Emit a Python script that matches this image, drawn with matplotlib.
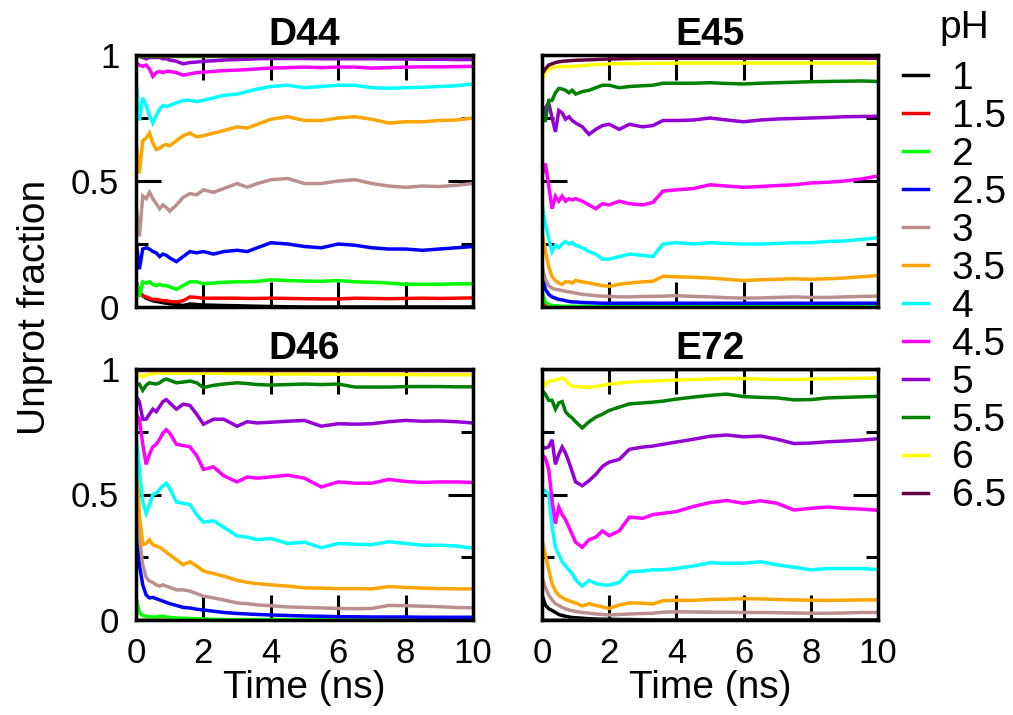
import matplotlib
matplotlib.use("Agg")
import matplotlib.pyplot as plt
from matplotlib.ticker import FixedLocator, FuncFormatter
from matplotlib.lines import Line2D

plt.rcParams['font.family'] = ['Liberation Sans', 'DejaVu Sans']

# common time grid (ns)
T = [0, 0.1, 0.2, 0.3, 0.4, 0.5, 0.6, 0.7, 0.8, 0.9, 1.0, 1.2, 1.4, 1.6, 1.8, 2.0,
     2.3, 2.6, 3.0, 3.3, 3.6, 4.0, 4.5, 5.0, 5.5, 6.0, 6.5, 7.0, 7.5, 8.0, 8.5, 9.0, 9.5, 10.0]

ph_labels = ['1', '1.5', '2', '2.5', '3', '3.5', '4', '4.5', '5', '5.5', '6', '6.5']
ph_colors = ['#000000', '#ff0000', '#00ff00', '#0000ff', '#bc8f8f', '#ffa500',
             '#00ffff', '#ff00ff', '#9400d3', '#008000', '#ffff00', '#600040']

ONE = [1.0] * 34
ZERO = [0.0] * 34

D44 = {
    '1':   [0.1, 0.06, 0.045, 0.035, 0.03, 0.025, 0.022, 0.02, 0.017, 0.015, 0.013, 0.01, 0.006, 0.012, 0.01, 0.008,
            0.007, 0.006, 0.005, 0.004, 0.003, 0.002, 0.001, 0, 0, 0, 0, 0, 0, 0, 0, 0, 0, 0],
    '1.5': [0.08, 0.05, 0.045, 0.04, 0.035, 0.03, 0.03, 0.028, 0.025, 0.025, 0.022, 0.02, 0.025, 0.04, 0.038, 0.035,
            0.035, 0.035, 0.035, 0.034, 0.034, 0.035, 0.034, 0.033, 0.032, 0.032, 0.035, 0.034, 0.033, 0.034, 0.035, 0.034, 0.035, 0.036],
    '2':   [0.11, 0.04, 0.1, 0.095, 0.1, 0.09, 0.085, 0.09, 0.085, 0.085, 0.08, 0.07, 0.085, 0.1, 0.1, 0.092,
            0.095, 0.098, 0.1, 0.1, 0.102, 0.108, 0.105, 0.103, 0.102, 0.105, 0.1, 0.098, 0.095, 0.09, 0.09, 0.09, 0.092, 0.092],
    '2.5': [0.27, 0.15, 0.23, 0.235, 0.23, 0.22, 0.215, 0.2, 0.21, 0.205, 0.195, 0.18, 0.2, 0.22, 0.215, 0.22,
            0.21, 0.22, 0.225, 0.22, 0.235, 0.255, 0.25, 0.24, 0.235, 0.25, 0.245, 0.235, 0.23, 0.23, 0.225, 0.23, 0.235, 0.24],
    '3':   [0.41, 0.28, 0.44, 0.43, 0.455, 0.43, 0.41, 0.39, 0.405, 0.395, 0.38, 0.405, 0.435, 0.45, 0.445, 0.465,
            0.455, 0.47, 0.49, 0.475, 0.49, 0.505, 0.51, 0.49, 0.49, 0.5, 0.505, 0.49, 0.48, 0.475, 0.48, 0.478, 0.483, 0.49],
    '3.5': [0.66, 0.53, 0.66, 0.67, 0.69, 0.65, 0.625, 0.63, 0.64, 0.645, 0.64, 0.66, 0.68, 0.69, 0.675, 0.68,
            0.69, 0.7, 0.715, 0.71, 0.725, 0.745, 0.755, 0.74, 0.74, 0.75, 0.755, 0.745, 0.73, 0.735, 0.735, 0.74, 0.742, 0.75],
    '4':   [0.91, 0.74, 0.83, 0.8, 0.76, 0.73, 0.76, 0.785, 0.8, 0.795, 0.8, 0.81, 0.82, 0.82, 0.815, 0.82,
            0.83, 0.84, 0.845, 0.855, 0.865, 0.875, 0.88, 0.87, 0.875, 0.88, 0.88, 0.87, 0.868, 0.87, 0.872, 0.875, 0.878, 0.885],
    '4.5': [0.97, 0.96, 0.955, 0.96, 0.945, 0.915, 0.93, 0.935, 0.93, 0.935, 0.935, 0.93, 0.92, 0.925, 0.93, 0.932,
            0.935, 0.938, 0.94, 0.942, 0.945, 0.948, 0.95, 0.952, 0.95, 0.952, 0.952, 0.948, 0.95, 0.952, 0.953, 0.953, 0.954, 0.955],
    '5':   [1.0, 0.995, 0.99, 0.985, 0.99, 0.99, 0.99, 0.99, 0.985, 0.985, 0.98, 0.975, 0.965, 0.97, 0.972, 0.975,
            0.977, 0.98, 0.982, 0.983, 0.985, 0.986, 0.986, 0.986, 0.985, 0.985, 0.985, 0.985, 0.984, 0.984, 0.983, 0.983, 0.982, 0.982],
    '5.5': [0.996] * 34,
    '6':   ONE,
    '6.5': ONE,
}

E45 = {
    '1':   [0.02, 0.005] + [0.0] * 32,
    '1.5': [0.03, 0.008, 0.003] + [0.0] * 31,
    '2':   [0.06, 0.02, 0.01, 0.006, 0.005, 0.004] + [0.003] * 28,
    '2.5': [0.14, 0.07, 0.05, 0.04, 0.035, 0.03, 0.028, 0.025, 0.022, 0.02, 0.02, 0.018, 0.017, 0.016] + [0.015] * 20,
    '3':   [0.16, 0.11, 0.085, 0.075, 0.07, 0.068, 0.065, 0.062, 0.06, 0.058, 0.055, 0.05, 0.048, 0.045, 0.043, 0.042,
            0.04, 0.04, 0.042, 0.042, 0.043, 0.045, 0.042, 0.04, 0.037, 0.035, 0.036, 0.038, 0.04, 0.038, 0.038, 0.04, 0.042, 0.043],
    '3.5': [0.3, 0.22, 0.16, 0.12, 0.105, 0.095, 0.09, 0.1, 0.1, 0.095, 0.105, 0.1, 0.095, 0.09, 0.085, 0.082,
            0.09, 0.095, 0.1, 0.102, 0.122, 0.12, 0.118, 0.115, 0.11, 0.105, 0.108, 0.11, 0.112, 0.11, 0.112, 0.115, 0.12, 0.125],
    '4':   [0.41, 0.33, 0.27, 0.22, 0.245, 0.235, 0.25, 0.26, 0.25, 0.255, 0.245, 0.235, 0.22, 0.21, 0.19, 0.19,
            0.2, 0.21, 0.205, 0.2, 0.25, 0.255, 0.25, 0.255, 0.252, 0.25, 0.25, 0.252, 0.255, 0.255, 0.26, 0.262, 0.268, 0.275],
    '4.5': [0.52, 0.57, 0.48, 0.39, 0.44, 0.42, 0.44, 0.42, 0.43, 0.425, 0.43, 0.42, 0.405, 0.39, 0.41, 0.405,
            0.42, 0.41, 0.405, 0.415, 0.46, 0.465, 0.47, 0.485, 0.48, 0.475, 0.478, 0.482, 0.485, 0.492, 0.495, 0.5, 0.508, 0.52],
    '5':   [0.75, 0.79, 0.81, 0.75, 0.695, 0.78, 0.77, 0.745, 0.755, 0.74, 0.73, 0.715, 0.685, 0.705, 0.72, 0.725,
            0.705, 0.725, 0.715, 0.72, 0.74, 0.74, 0.742, 0.75, 0.742, 0.735, 0.742, 0.746, 0.748, 0.75, 0.752, 0.755, 0.756, 0.757],
    '5.5': [0.74, 0.74, 0.82, 0.82, 0.85, 0.867, 0.865, 0.86, 0.85, 0.86, 0.845, 0.855, 0.86, 0.87, 0.88, 0.88,
            0.87, 0.875, 0.878, 0.88, 0.888, 0.888, 0.888, 0.89, 0.887, 0.885, 0.888, 0.89, 0.892, 0.894, 0.895, 0.896, 0.897, 0.895],
    '6':   [0.9, 0.93, 0.945, 0.95, 0.952, 0.955, 0.953, 0.955, 0.953, 0.955, 0.955, 0.958, 0.96, 0.962, 0.963, 0.965,
            0.966, 0.966, 0.967, 0.967, 0.967, 0.968, 0.968, 0.968, 0.968, 0.968, 0.968, 0.968, 0.968, 0.968, 0.968, 0.968, 0.968, 0.968],
    '6.5': [0.925, 0.945, 0.96, 0.965, 0.97, 0.973, 0.975, 0.976, 0.977, 0.978, 0.979, 0.98, 0.981, 0.982, 0.983, 0.984,
            0.985, 0.986] + [0.987] * 16,
}

D46 = {
    '1':   ZERO,
    '1.5': ZERO,
    '2':   [0.09, 0.03, 0.018, 0.015, 0.013, 0.012, 0.012, 0.014, 0.015, 0.012, 0.01, 0.008, 0.007, 0.006, 0.005, 0.004,
            0.003] + [0.002] * 17,
    '2.5': [0.45, 0.22, 0.14, 0.1, 0.088, 0.09, 0.085, 0.08, 0.075, 0.07, 0.065, 0.058, 0.05, 0.048, 0.043, 0.04,
            0.035, 0.03, 0.026, 0.024, 0.022, 0.02, 0.018, 0.016, 0.015, 0.013, 0.013, 0.012, 0.012, 0.012, 0.011, 0.011, 0.011, 0.011],
    '3':   [0.54, 0.33, 0.22, 0.17, 0.155, 0.15, 0.14, 0.135, 0.14, 0.135, 0.13, 0.12, 0.12, 0.115, 0.105, 0.095,
            0.088, 0.08, 0.068, 0.065, 0.06, 0.057, 0.052, 0.05, 0.048, 0.046, 0.045, 0.046, 0.058, 0.057, 0.055, 0.053, 0.05, 0.048],
    '3.5': [0.7, 0.42, 0.3, 0.305, 0.32, 0.3, 0.295, 0.29, 0.28, 0.27, 0.26, 0.24, 0.22, 0.232, 0.215, 0.195,
            0.185, 0.175, 0.158, 0.15, 0.145, 0.14, 0.135, 0.128, 0.127, 0.125, 0.125, 0.124, 0.133, 0.13, 0.127, 0.125, 0.124, 0.124],
    '4':   [0.75, 0.6, 0.47, 0.425, 0.46, 0.5, 0.505, 0.52, 0.535, 0.545, 0.525, 0.47, 0.465, 0.46, 0.42, 0.39,
            0.395, 0.37, 0.335, 0.33, 0.32, 0.325, 0.305, 0.31, 0.288, 0.305, 0.302, 0.3, 0.312, 0.305, 0.298, 0.298, 0.295, 0.286],
    '4.5': [0.82, 0.8, 0.7, 0.62, 0.66, 0.69, 0.7, 0.72, 0.745, 0.758, 0.745, 0.7, 0.695, 0.69, 0.655, 0.6,
            0.61, 0.575, 0.55, 0.57, 0.565, 0.57, 0.577, 0.565, 0.53, 0.55, 0.545, 0.545, 0.56, 0.552, 0.548, 0.55, 0.55, 0.548],
    '5':   [0.893, 0.87, 0.8, 0.8, 0.82, 0.84, 0.83, 0.85, 0.87, 0.878, 0.865, 0.84, 0.86, 0.855, 0.82, 0.78,
            0.8, 0.8, 0.772, 0.79, 0.785, 0.788, 0.792, 0.795, 0.772, 0.782, 0.78, 0.782, 0.79, 0.795, 0.792, 0.793, 0.79, 0.785],
    '5.5': [0.935, 0.94, 0.915, 0.935, 0.945, 0.942, 0.94, 0.945, 0.955, 0.96, 0.955, 0.945, 0.948, 0.952, 0.945, 0.926,
            0.935, 0.94, 0.945, 0.942, 0.938, 0.936, 0.938, 0.94, 0.938, 0.94, 0.928, 0.928, 0.928, 0.93, 0.93, 0.93, 0.929, 0.929],
    '6':   [0.99, 0.975, 0.968, 0.975, 0.98, 0.982, 0.983, 0.983, 0.983, 0.983, 0.983, 0.983, 0.983, 0.983, 0.983, 0.983,
            0.983, 0.982, 0.982, 0.981, 0.981, 0.98, 0.98, 0.98, 0.979, 0.979, 0.979, 0.978, 0.978, 0.978, 0.977, 0.977, 0.977, 0.977],
    '6.5': [0.998] * 34,
}

E72 = {
    '1':   [0.1, 0.06, 0.045, 0.038, 0.03, 0.022, 0.018, 0.015, 0.012, 0.01, 0.009, 0.007, 0.005, 0.004, 0.003, 0.003,
            0.002, 0.002, 0.001] + [0.0] * 15,
    '1.5': ZERO,
    '2':   ZERO,
    '2.5': ZERO,
    '3':   [0.17, 0.13, 0.1, 0.08, 0.065, 0.058, 0.05, 0.045, 0.04, 0.037, 0.034, 0.03, 0.027, 0.024, 0.022, 0.02,
            0.022, 0.024, 0.026, 0.027, 0.031, 0.033, 0.032, 0.031, 0.031, 0.03, 0.03, 0.029, 0.028, 0.027, 0.027, 0.028, 0.03, 0.03],
    '3.5': [0.32, 0.26, 0.2, 0.145, 0.115, 0.098, 0.09, 0.082, 0.077, 0.072, 0.068, 0.056, 0.065, 0.058, 0.052, 0.046,
            0.06, 0.068, 0.067, 0.064, 0.077, 0.078, 0.078, 0.082, 0.083, 0.085, 0.084, 0.082, 0.08, 0.079, 0.078, 0.079, 0.08, 0.08],
    '4':   [0.52, 0.515, 0.5, 0.37, 0.29, 0.26, 0.232, 0.215, 0.2, 0.185, 0.16, 0.135, 0.158, 0.145, 0.14, 0.139,
            0.15, 0.192, 0.195, 0.2, 0.2, 0.205, 0.215, 0.228, 0.226, 0.226, 0.232, 0.22, 0.21, 0.2, 0.205, 0.205, 0.205, 0.201],
    '4.5': [0.66, 0.645, 0.6, 0.477, 0.384, 0.45, 0.42, 0.4, 0.37, 0.34, 0.31, 0.29, 0.32, 0.33, 0.355, 0.336,
            0.355, 0.41, 0.405, 0.42, 0.425, 0.432, 0.452, 0.468, 0.476, 0.465, 0.475, 0.465, 0.438, 0.445, 0.45, 0.445, 0.442, 0.437],
    '5':   [0.69, 0.685, 0.69, 0.718, 0.62, 0.66, 0.689, 0.665, 0.63, 0.59, 0.55, 0.535, 0.555, 0.58, 0.612, 0.629,
            0.64, 0.68, 0.689, 0.693, 0.7, 0.709, 0.72, 0.732, 0.737, 0.73, 0.733, 0.72, 0.703, 0.705, 0.71, 0.713, 0.717, 0.722],
    '5.5': [0.915, 0.9, 0.875, 0.875, 0.84, 0.865, 0.87, 0.83, 0.815, 0.805, 0.79, 0.765, 0.79, 0.808, 0.82, 0.835,
            0.848, 0.861, 0.865, 0.868, 0.872, 0.88, 0.888, 0.895, 0.9, 0.89, 0.887, 0.885, 0.877, 0.878, 0.885, 0.887, 0.889, 0.891],
    '6':   [0.96, 0.935, 0.95, 0.955, 0.955, 0.96, 0.964, 0.955, 0.94, 0.932, 0.93, 0.928, 0.927, 0.93, 0.935, 0.94,
            0.944, 0.948, 0.951, 0.952, 0.954, 0.956, 0.958, 0.96, 0.962, 0.962, 0.96, 0.958, 0.958, 0.96, 0.961, 0.962, 0.963, 0.964],
    '6.5': ONE,
}

panels = [('D44', D44), ('E45', E45), ('D46', D46), ('E72', E72)]

W, H = 1013, 715
fig = plt.figure(figsize=(W / 100, H / 100), dpi=100)

# axes rectangles in pixels: (left, top, right, bottom)
rects = [(136, 55, 473, 307), (542, 55, 878, 307), (136, 369, 473, 620), (542, 369, 878, 620)]

LW = 2.5
for i, ((name, data), (l, t, r, b)) in enumerate(zip(panels, rects)):
    ax = fig.add_axes([l / W, 1 - b / H, (r - l) / W, (b - t) / H])
    for lab, col in zip(ph_labels, ph_colors):
        ax.plot(T, data[lab], color=col, lw=LW, solid_joinstyle='miter')
    ax.set_xlim(0, 10)
    ax.set_ylim(0, 1)
    ax.xaxis.set_major_locator(FixedLocator([0, 2, 4, 6, 8, 10]))
    ax.yaxis.set_major_locator(FixedLocator([0, 0.5, 1]))
    ax.yaxis.set_minor_locator(FixedLocator([0.25, 0.75]))
    ax.yaxis.set_major_formatter(FuncFormatter(lambda v, p: '%g' % v))
    ax.tick_params(which='both', direction='in', top=True, right=True, width=2.2, labelsize=25, pad=12)
    ax.tick_params(which='major', length=18)
    ax.tick_params(which='minor', length=8.5)
    for s in ax.spines.values():
        s.set_linewidth(2.5)
    ax.set_title(name, fontsize=28, fontweight='bold', pad=7)
    if i in (1, 3):
        ax.tick_params(labelleft=False)
    if i in (0, 1):
        ax.tick_params(labelbottom=False)
    else:
        ax.set_xlabel('Time (ns)', fontsize=28, labelpad=0)

fig.text(35 / W, 1 - 307 / H, 'Unprot fraction', rotation=90, fontsize=28, ha='center', va='center')

fig.text(964 / W, 1 - 38 / H, 'pH', fontsize=28, ha='center', va='baseline')
handles = [Line2D([], [], color=c, lw=LW) for c in ph_colors]
leg = fig.legend(handles, ph_labels, loc='upper left', bbox_to_anchor=(903 / W, 1 - 61 / H),
                 frameon=False, fontsize=28,
                 handlelength=0.65, handletextpad=0.6, labelspacing=0.05, borderpad=0, borderaxespad=0)

fig.savefig('out.png', dpi=100)
